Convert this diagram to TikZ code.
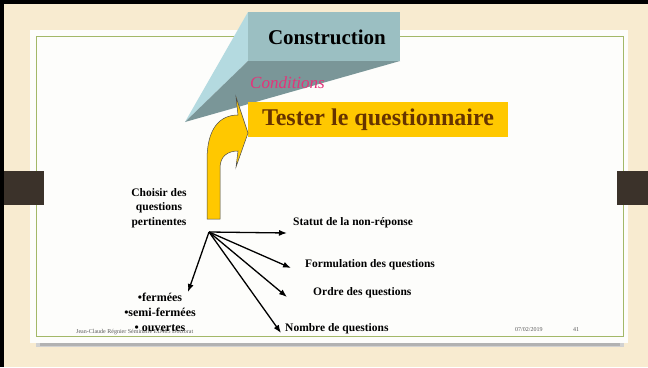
\documentclass[tikz,border=0pt]{standalone}
\usepackage{fontspec}
\setmainfont{Liberation Serif}
\usetikzlibrary{arrows.meta}

\definecolor{parchment}{HTML}{F8EBD0}
\definecolor{panel}{HTML}{FDFDFB}
\definecolor{greenline}{HTML}{A3B868}
\definecolor{tabbrown}{HTML}{3B322A}
\definecolor{prismfront}{HTML}{9BBFC2}
\definecolor{prismlight}{HTML}{B4DAE0}
\definecolor{prismdark}{HTML}{7A9698}
\definecolor{condpink}{HTML}{E3347A}
\definecolor{gold}{HTML}{FFC800}
\definecolor{brownish}{HTML}{663300}

\begin{document}
\begin{tikzpicture}[x=1pt,y=-1pt,
  branch/.style={font=\fontsize{11.5}{14.5}\selectfont\bfseries, inner sep=1pt},
  fan/.style={-{Latex[length=8pt,width=6pt]}, line width=1.3pt},
  foot/.style={font=\fontsize{6}{7}\selectfont, text=black!65, inner sep=0pt}]
  \useasboundingbox (0,0) rectangle (648,367);
  % fond et cadre
  \fill[parchment] (0,0) rectangle (648,367);
  \fill[black] (0,0) rectangle (648,4);
  \fill[black] (0,0) rectangle (4,367);
  \fill[black!18] (36,340) rectangle (624,347);
  \fill[black!30] (40,343) rectangle (620,345.5);
  \fill[panel] (30,30) rectangle (628,343);
  \draw[greenline, line width=1pt] (36,36) rectangle (623,336);
  \fill[tabbrown] (4,171) rectangle (44,205);
  \fill[tabbrown] (617,171) rectangle (648,205);
  % prisme
  \fill[prismlight] (248,12) -- (248,61) -- (185,122) -- cycle;
  \fill[prismdark] (248,61) -- (400,61) -- (185,122) -- cycle;
  \fill[prismfront] (248,12) rectangle (400,61);
  \node[font=\fontsize{21}{25}\selectfont\bfseries] (constr) at (327,37) {Construction};
  \node[font=\fontsize{17}{20}\selectfont\itshape, text=condpink, anchor=west, inner sep=0pt] (cond) at (250,83) {Conditions};
  % test
  \node[fill=gold, minimum width=260pt, minimum height=35pt, inner sep=0pt,
        font=\fontsize{24}{28}\selectfont\bfseries, text=brownish] (tester) at (378,119.5) {Tester le questionnaire};
  \draw[fill=gold, draw=black!70, line width=0.5pt]
    (207,219) -- (207,160) .. controls (207,128) and (220,115) .. (238,115)
    -- (236,97) -- (248,133) -- (236,167) -- (238,151)
    .. controls (228,151) and (220,156) .. (220,168) -- (220,219) -- cycle;
  % pied de page
  \node[foot, anchor=west] (auteur) at (76,332) {Jean-Claude Régnier Séminaire ED485 Doctorat};
  \node[foot, anchor=west] (date) at (515,330) {07/02/2019};
  \node[foot, anchor=west] (page) at (573,330) {41};
  % questions
  \node[branch, align=center] (choix) at (159,208) {Choisir des\\questions\\pertinentes};
  \node[branch, anchor=west] (statut) at (292,223) {Statut de la non-réponse};
  \node[branch, anchor=west] (formul) at (304,265) {Formulation des questions};
  \node[branch, anchor=west] (ordre) at (312,293) {Ordre des questions};
  \node[branch, anchor=west] (nombre) at (284,329) {Nombre de questions};
  \node[branch, align=center, font=\fontsize{12}{15}\selectfont\bfseries] (types) at (160,312) {•fermées\\•semi-fermées\\• ouvertes};
  \coordinate (o) at (209,232);
  \coordinate (t1) at (287,233);
  \coordinate (t2) at (291,268);
  \coordinate (t3) at (287,297);
  \coordinate (t4) at (281,333);
  \coordinate (t5) at (188,292);
  \foreach \t in {t1,t2,t3,t4,t5}
    \draw[fan] (o) -- (\t);
\end{tikzpicture}
\end{document}
